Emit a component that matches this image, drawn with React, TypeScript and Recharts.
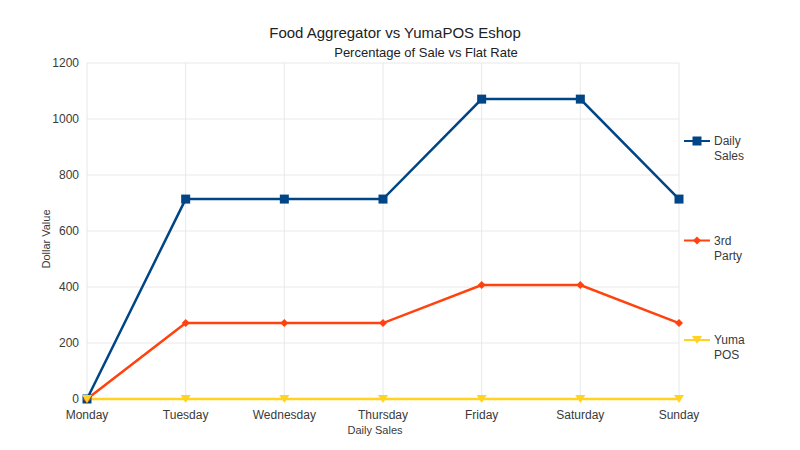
import React from 'react';
import { LineChart, Line, XAxis, YAxis, CartesianGrid } from 'recharts';

const days = ['Monday', 'Tuesday', 'Wednesday', 'Thursday', 'Friday', 'Saturday', 'Sunday'];
const dailySales = [0, 714, 714, 714, 1071, 1071, 714];
const thirdParty = [0, 271, 271, 271, 407, 407, 271];
const yumaPos = [0, 0, 0, 0, 0, 0, 0];
const yTicks = [0, 200, 400, 600, 800, 1000, 1200];

const title = 'Food Aggregator vs YumaPOS Eshop';
const subtitle = 'Percentage of Sale vs Flat Rate';
const xLabel = 'Daily Sales';
const yLabel = 'Dollar Value';

const series = [
  { key: 'daily', name: ['Daily', 'Sales'], color: '#004586', shape: 'square' },
  { key: 'third', name: ['3rd', 'Party'], color: '#ff420e', shape: 'diamond' },
  { key: 'yuma', name: ['Yuma', 'POS'], color: '#ffd320', shape: 'triangle' },
];

const data = days.map((d, i) => ({ day: d, daily: dailySales[i], third: thirdParty[i], yuma: yumaPos[i] }));

const FONT = '"Liberation Sans", Arial, sans-serif';

function marker(shape: string, x: number, y: number, color: string, k?: any) {
  if (shape === 'square') return <rect key={k} x={x - 4.5} y={y - 4.5} width={9} height={9} fill={color} />;
  if (shape === 'diamond') return <polygon key={k} points={`${x},${y - 4} ${x + 4},${y} ${x},${y + 4} ${x - 4},${y}`} fill={color} />;
  return <polygon key={k} points={`${x - 5},${y - 4} ${x + 5},${y - 4} ${x},${y + 4}`} fill={color} />;
}

const makeDot = (shape: string, color: string) => (props: any) => {
  const { cx, cy, index } = props;
  if (cx == null || cy == null) return <g key={index} />;
  return marker(shape, cx, cy, color, index);
};

export default function App() {
  return (
    <div style={{ position: 'absolute', left: 0, top: 0, width: 800, height: 450, background: '#fff' }}>
      <LineChart width={800} height={450} data={data} margin={{ top: 63, right: 121, bottom: 21, left: 47 }}>
        <CartesianGrid stroke="#e8e8e8" />
        <XAxis
          dataKey="day"
          axisLine={false}
          tickLine={false}
          tickMargin={5}
          tick={{ fill: '#3a3a3a', fontSize: 12, fontFamily: FONT }}
          interval={0}
        />
        <YAxis
          width={40}
          domain={[0, 1200]}
          ticks={yTicks}
          axisLine={false}
          tickLine={false}
          tick={{ fill: '#3a3a3a', fontSize: 12, fontFamily: FONT }}
        />
        {series.map((s) => (
          <Line
            key={s.key}
            dataKey={s.key}
            type="linear"
            stroke={s.color}
            strokeWidth={2.5}
            dot={makeDot(s.shape, s.color)}
            activeDot={false}
            isAnimationActive={false}
          />
        ))}
      </LineChart>
      <svg width={800} height={450} style={{ position: 'absolute', left: 0, top: 0, pointerEvents: 'none' }}>
        <text x={395} y={38} textAnchor="middle" fontSize={15} fill="#222" fontFamily={FONT}>{title}</text>
        <text x={426} y={57} textAnchor="middle" fontSize={13} fill="#222" fontFamily={FONT}>{subtitle}</text>
        <text x={375} y={434} textAnchor="middle" fontSize={11} fill="#3a3a3a" fontFamily={FONT}>{xLabel}</text>
        <text x={50} y={239} textAnchor="middle" fontSize={11} fill="#3a3a3a" fontFamily={FONT} transform="rotate(-90 50 239)">{yLabel}</text>
        {series.map((s, i) => {
          const y = 141 + i * 99.5;
          return (
            <g key={s.key}>
              <line x1={684} x2={710} y1={y} y2={y} stroke={s.color} strokeWidth={2} />
              {marker(s.shape, 697, y, s.color)}
              <text x={714} y={y + 4} fontSize={12} fill="#3a3a3a" fontFamily={FONT}>{s.name[0]}</text>
              <text x={714} y={y + 19} fontSize={12} fill="#3a3a3a" fontFamily={FONT}>{s.name[1]}</text>
            </g>
          );
        })}
      </svg>
    </div>
  );
}
